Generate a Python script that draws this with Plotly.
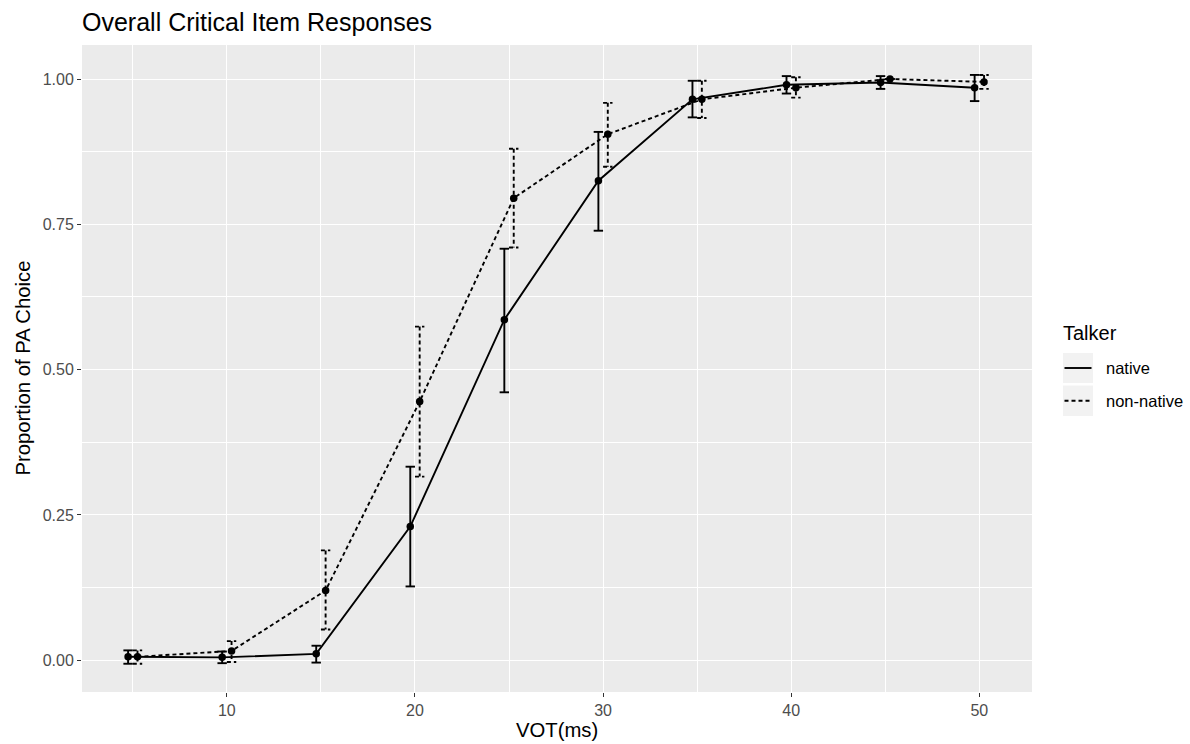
import plotly.graph_objects as go

# ---- data ----
vot = [5, 10, 15, 20, 25, 30, 35, 40, 45, 50]
native_mean = [0.006, 0.005, 0.011, 0.230, 0.586, 0.825, 0.965, 0.990, 0.994, 0.985]
native_low = [-0.006, -0.005, -0.004, 0.127, 0.461, 0.739, 0.934, 0.975, 0.983, 0.962]
native_high = [0.017, 0.015, 0.025, 0.333, 0.708, 0.909, 0.997, 1.005, 1.005, 1.007]
nonnative_mean = [0.006, 0.016, 0.120, 0.445, 0.795, 0.905, 0.965, 0.985, 1.000, 0.995]
nonnative_low = [-0.006, -0.003, 0.053, 0.316, 0.710, 0.849, 0.933, 0.968, 1.000, 0.983]
nonnative_high = [0.017, 0.033, 0.189, 0.574, 0.880, 0.959, 0.997, 1.003, 1.000, 1.007]
x_ticks = [10, 20, 30, 40, 50]
y_ticks = [0, 0.25, 0.5, 0.75, 1.0]
y_ticklabels = ["0.00", "0.25", "0.50", "0.75", "1.00"]

DODGE = 0.25
CAP = 0.25
LW = 1.9
DASH = "4px,3px"
FONT = "Liberation Sans"

W, H = 1190, 744
L, R, T, B = 82, 158, 45, 52


def err_path(xs, lo, hi):
    px, py = [], []
    for x, a, b in zip(xs, lo, hi):
        px += [x - CAP, x + CAP, None, x, x, None, x - CAP, x + CAP, None]
        py += [b, b, None, b, a, None, a, a, None]
    return px, py


fig = go.Figure()

for means, lo, hi, off, dash, name in [
    (native_mean, native_low, native_high, -DODGE, "solid", "native"),
    (nonnative_mean, nonnative_low, nonnative_high, DODGE, DASH, "non-native"),
]:
    xs = [v + off for v in vot]
    ex, ey = err_path(xs, lo, hi)
    fig.add_trace(go.Scatter(x=ex, y=ey, mode="lines",
                             line=dict(color="black", width=LW, dash=dash),
                             showlegend=False, hoverinfo="skip"))
    fig.add_trace(go.Scatter(x=xs, y=means, mode="lines+markers", name=name,
                             line=dict(color="black", width=LW, dash=dash),
                             marker=dict(color="black", size=7.5),
                             showlegend=False))

grid = dict(showgrid=True, gridcolor="white", gridwidth=1.3, zeroline=False,
            showline=False, ticks="outside", ticklen=4, tickwidth=1.3,
            tickcolor="#333333",
            tickfont=dict(family=FONT, size=16, color="#4D4D4D"))

fig.update_xaxes(range=[2.3, 52.8], tickmode="array", tickvals=x_ticks,
                 ticktext=[str(v) for v in x_ticks],
                 minor=dict(dtick=5, tick0=0, showgrid=True, gridcolor="white",
                            gridwidth=0.6, ticks=""),
                 **grid)
fig.update_yaxes(range=[-0.0546, 1.0585], tickmode="array", tickvals=y_ticks,
                 ticktext=y_ticklabels,
                 minor=dict(dtick=0.125, tick0=0, showgrid=True, gridcolor="white",
                            gridwidth=0.6, ticks=""),
                 **grid)


def px2x(px):
    return (px - L) / (W - L - R)


def px2y(py):
    return (H - B - py) / (H - T - B)


shapes = []
annotations = []
# legend key boxes and lines
for (y0, y1), dash in [((353, 383), "solid"), ((385.5, 416), DASH)]:
    shapes.append(dict(type="rect", xref="paper", yref="paper",
                       x0=px2x(1063), x1=px2x(1093), y0=px2y(y1), y1=px2y(y0),
                       fillcolor="#F2F2F2", line=dict(width=0), layer="below"))
    ym = (y0 + y1) / 2
    shapes.append(dict(type="line", xref="paper", yref="paper",
                       x0=px2x(1064.5), x1=px2x(1091.5), y0=px2y(ym), y1=px2y(ym),
                       line=dict(color="black", width=LW, dash=dash)))

annotations.append(dict(text="Talker", xref="paper", yref="paper",
                        x=px2x(1061), y=px2y(333), xanchor="left", yanchor="middle",
                        showarrow=False,
                        font=dict(family=FONT, size=20, color="black")))
for label, ym in [("native", 368), ("non-native", 400.7)]:
    annotations.append(dict(text=label, xref="paper", yref="paper",
                            x=px2x(1104), y=px2y(ym), xanchor="left", yanchor="middle",
                            showarrow=False,
                            font=dict(family=FONT, size=16.5, color="black")))

# axis titles
annotations.append(dict(text="VOT(ms)", xref="paper", yref="paper",
                        x=0.5, y=px2y(730), xanchor="center", yanchor="middle",
                        showarrow=False,
                        font=dict(family=FONT, size=20.3, color="black")))
annotations.append(dict(text="Proportion of PA Choice", xref="paper", yref="paper",
                        x=px2x(22), y=0.5, xanchor="center", yanchor="middle",
                        textangle=-90, showarrow=False,
                        font=dict(family=FONT, size=20.3, color="black")))

fig.update_layout(
    width=W, height=H,
    margin=dict(l=L, r=R, t=T, b=B),
    paper_bgcolor="white", plot_bgcolor="#EBEBEB",
    title=dict(text="Overall Critical Item Responses", x=px2x(82), xref="paper",
               xanchor="left", y=1 - 22 / H, yref="container", yanchor="middle",
               font=dict(family=FONT, size=25, color="black")),
    shapes=shapes, annotations=annotations,
    showlegend=False,
)

fig.write_html("out.html", config={"displayModeBar": False},
               post_script="document.body.style.margin='0';document.body.style.padding='0';")
